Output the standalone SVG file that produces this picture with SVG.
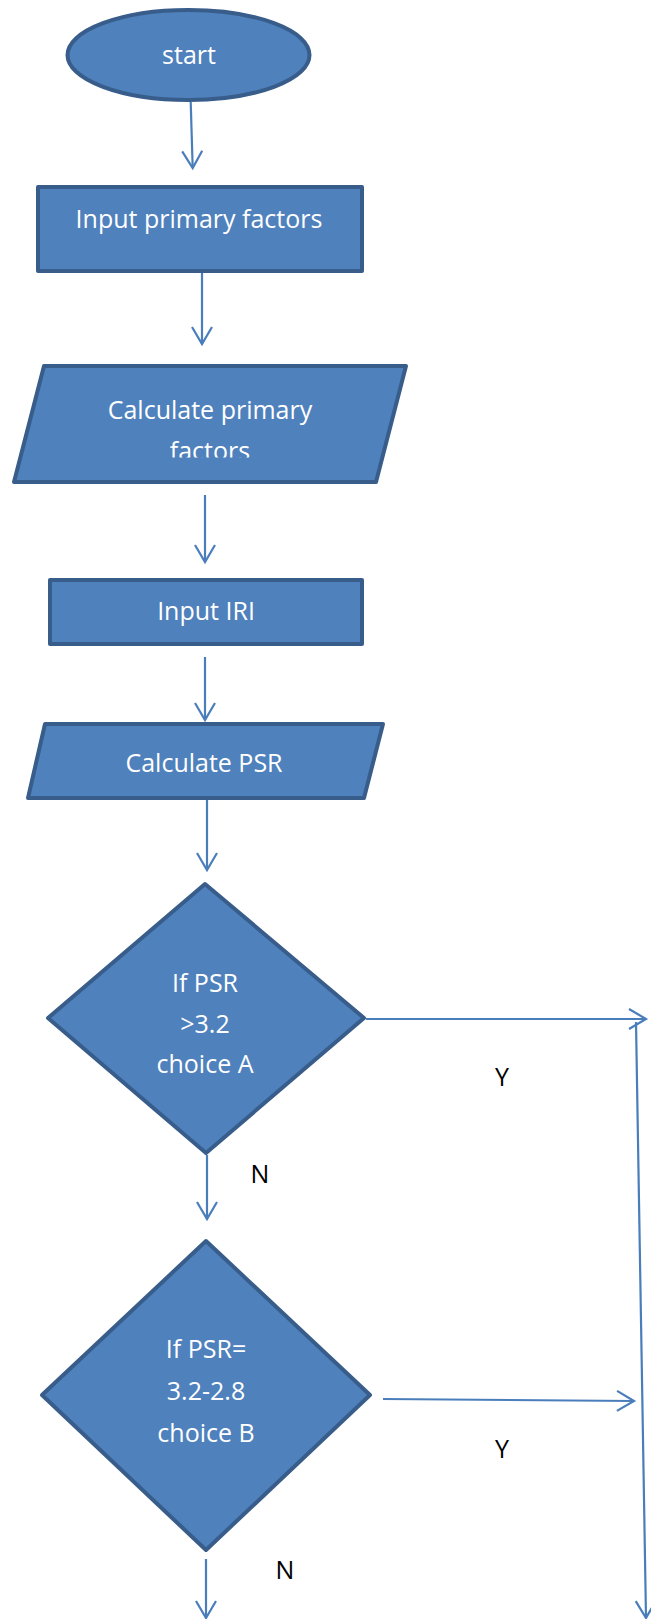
<svg xmlns="http://www.w3.org/2000/svg" width="651" height="1619" viewBox="0 0 651 1619">
<style>
.node{fill:#4F81BD;stroke:#385D8A;stroke-width:4;stroke-linejoin:round}
.t{font-family:"Open Sans","Liberation Sans",sans-serif;font-size:25px;fill:#FFFFFF;text-anchor:middle}
.lbl{font-family:"Open Sans","Liberation Sans",sans-serif;font-size:25px;fill:#000000;text-anchor:middle}
.c{fill:none;stroke:#4A7EBB;stroke-width:2.2}
</style>
<defs>
<marker id="ah" markerUnits="userSpaceOnUse" viewBox="-20 -12 22 24" markerWidth="22" markerHeight="24" refX="0" refY="0" orient="auto" overflow="visible">
<path d="M-17,-10 L0,0 L-17,10" fill="none" stroke="#4A7EBB" stroke-width="2.2"/>
</marker>
<clipPath id="clipF"><rect x="0" y="360" width="651" height="97.5"/></clipPath>
</defs>
<rect width="651" height="1619" fill="#FFFFFF"/>
<g id="start">
<ellipse class="node" cx="188.5" cy="55" rx="121" ry="45"/>
<text class="t" x="189" y="64">start</text>
</g>
<g id="input-primary">
<rect class="node" x="38" y="187" width="324" height="84"/>
<text class="t" x="199" y="228">Input primary factors</text>
</g>
<g id="calc-primary">
<polygon class="node" points="44,366 406,366 376,482 14,482"/>
<g clip-path="url(#clipF)">
<text class="t" x="210" y="419">Calculate primary</text>
<text class="t" x="210" y="460">factors</text>
</g>
</g>
<g id="input-iri">
<rect class="node" x="50" y="580" width="312" height="64"/>
<text class="t" x="206" y="620">Input IRI</text>
</g>
<g id="calc-psr">
<polygon class="node" points="45,724 383,724 364,798 28,798"/>
<text class="t" x="204" y="772">Calculate PSR</text>
</g>
<g id="decision-a">
<polygon class="node" points="205,884 364,1018 206,1153 48,1018"/>
<text class="t" x="205" y="992">If PSR</text>
<text class="t" x="205" y="1033">&gt;3.2</text>
<text class="t" x="205" y="1073">choice A</text>
</g>
<g id="decision-b">
<polygon class="node" points="206,1241 370,1395 206,1550 42,1395"/>
<text class="t" x="206" y="1358">If PSR=</text>
<text class="t" x="206" y="1400">3.2-2.8</text>
<text class="t" x="206" y="1442">choice B</text>
</g>
<g id="connectors">
<line class="c" x1="190.7" y1="102" x2="192.7" y2="168" marker-end="url(#ah)"/>
<line class="c" x1="202" y1="273" x2="202" y2="344" marker-end="url(#ah)"/>
<line class="c" x1="205" y1="495" x2="205" y2="562" marker-end="url(#ah)"/>
<line class="c" x1="205" y1="657" x2="205" y2="720" marker-end="url(#ah)"/>
<line class="c" x1="207" y1="800" x2="207" y2="870" marker-end="url(#ah)"/>
<line class="c" x1="366" y1="1019" x2="646" y2="1019" marker-end="url(#ah)"/>
<line class="c" x1="636" y1="1022" x2="646" y2="1618" marker-end="url(#ah)"/>
<line class="c" x1="207" y1="1155" x2="207" y2="1219" marker-end="url(#ah)"/>
<line class="c" x1="383" y1="1399" x2="634" y2="1401" marker-end="url(#ah)"/>
<line class="c" x1="206" y1="1559" x2="206" y2="1618" marker-end="url(#ah)"/>
</g>
<g id="labels">
<text class="lbl" x="502" y="1086">Y</text>
<text class="lbl" x="260" y="1183">N</text>
<text class="lbl" x="502" y="1458">Y</text>
<text class="lbl" x="285" y="1579">N</text>
</g>
</svg>
